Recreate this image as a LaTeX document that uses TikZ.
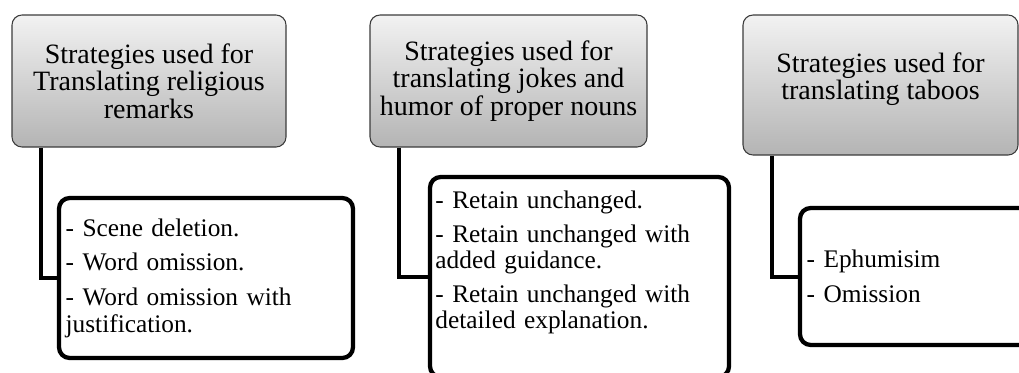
\documentclass[tikz,border=0pt]{standalone}
\usepackage{fontspec}
\setmainfont{Liberation Serif}
\definecolor{head-top}{HTML}{F2F2F2}
\definecolor{head-bottom}{HTML}{B4B4B4}
\definecolor{head-line}{HTML}{3C3C3C}
\begin{document}
\begin{tikzpicture}[x=0.75pt, y=-0.75pt,
        headfont/.style={align=center, font=\fontsize{21}{20.5}\selectfont},
        header/.style={headfont, draw=head-line, line width=0.8pt, rounded corners=7.5pt,
            top color=head-top, bottom color=head-bottom},
        listfont/.style={align=left, font=\fontsize{19}{20}\selectfont},
        branch/.style={listfont, draw=black, line width=3.2pt, rounded corners=8pt,
            fill=white, inner xsep=5pt},
        link/.style={draw=black, line width=3pt}]
      \clip (0,0) rectangle (1019,372);
      \useasboundingbox (0,0) rectangle (1019,372);
      % headers
      \node[header, minimum width=205.5pt, minimum height=99pt] (religion) at (149,81)
            {Strategies used for\\ Translating religious\\ remarks};
      \node[header, minimum width=207.75pt, minimum height=99pt] (jokes) at (508.5,81)
            {Strategies used for\\ translating jokes and\\ humor of proper nouns};
      \node[header, minimum width=206.25pt, minimum height=105pt] (taboos) at (880.5,85) {};
      \node[headfont] (taboostext) at ([yshift=4.5pt]taboos.center)
            {Strategies used for\\ translating taboos};
      % connectors
      \draw[link] ([xshift=22pt]religion.south west) |- (278,278) coordinate (religionin);
      \draw[link] ([xshift=22pt]jokes.south west) |- (580,277) coordinate (jokesin);
      \draw[link] ([xshift=22pt]taboos.south west) |- (922,277) coordinate (taboosin);
      % strategy lists
      \node[branch, minimum width=220.5pt, text width=210.5pt, minimum height=120pt] (religionlist) at (206,278)
            {- Scene deletion.\\[6pt] - Word omission.\\[6pt] - Word omission with\\ justification.};
      \node[branch, minimum width=224.25pt, minimum height=150pt] (jokeslist) at (579.5,277) {};
      \node[listfont, anchor=north west, text width=212pt, inner sep=0pt] (jokestext)
            at ([xshift=5.5pt, yshift=-12pt]jokeslist.north west)
            {- Retain unchanged.\\[5pt] - Retain unchanged with\\ added guidance.\\[5pt] - Retain unchanged with\\ detailed explanation.};
      \node[branch, minimum width=183.75pt, text width=173.75pt, minimum height=102.75pt] (tabooslist) at (922.5,276.5)
            {- Ephumisim\\[6pt] - Omission};
    \end{tikzpicture}
\end{document}
